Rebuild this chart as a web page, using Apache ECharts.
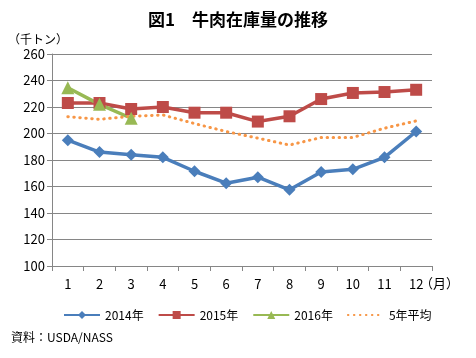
<!DOCTYPE html>
<html><head><meta charset="utf-8">
<script src="https://cdn.jsdelivr.net/npm/echarts@6/dist/echarts.min.js"></script>
<style>html,body{margin:0;padding:0;background:#fff}#c{width:476px;height:358px}</style>
</head><body><div id="c"></div>
<script>
const months = ['1','2','3','4','5','6','7','8','9','10','11','12'];
const s2014 = [195, 186, 184, 182, 171.5, 162.5, 167, 157.5, 171, 173, 182, 201.5];
const s2015 = [223, 223, 218.5, 220, 215.7, 215.7, 209, 213, 226, 230.6, 231.3, 233];
const s2016 = [234.5, 222, 211.5];
const avg5 = [212.7, 210.7, 213, 214, 207.5, 201.5, 196.5, 191.3, 197, 197, 204, 209.5];
const yTicks = {min: 100, max: 260, interval: 20};
const font = '"Noto Sans CJK JP", "Noto Sans", sans-serif';
const chart = echarts.init(document.getElementById('c'), null, {renderer: 'canvas'});
chart.setOption({
  animation: false,
  textStyle: {fontFamily: font},
  title: {text: '図1　牛肉在庫量の推移', left: 'center', top: 6,
    textStyle: {fontSize: 17, fontWeight: 'bold', color: '#000', fontFamily: font}},
  grid: {left: 52, top: 54, right: 44, bottom: 92},
  graphic: [
    {type: 'text', left: 8, top: 33, style: {text: '（千トン）', fontSize: 12, fill: '#000', fontFamily: font}},
    {type: 'text', left: 420, top: 277, style: {text: '（月）', fontSize: 13, fill: '#000', fontFamily: font}},
    {type: 'text', left: 11, top: 331, style: {text: '資料：USDA/NASS', fontSize: 12, fill: '#000', fontFamily: font}}
  ],
  legend: {
    bottom: 32, left: 58, itemWidth: 36, itemHeight: 10, itemGap: 14,
    textStyle: {fontSize: 12, color: '#000', fontFamily: font},
    data: ['2014年', '2015年', '2016年',
      {name: '5年平均', itemStyle: {color: 'rgba(0,0,0,0)', borderColor: 'rgba(0,0,0,0)', borderWidth: 0}}]
  },
  xAxis: {
    type: 'category', data: months, boundaryGap: true,
    axisLine: {lineStyle: {color: '#868686', width: 1}},
    axisTick: {show: true, length: 5, lineStyle: {color: '#868686'}},
    axisLabel: {fontSize: 13, color: '#000', margin: 12, fontFamily: font}
  },
  yAxis: {
    type: 'value', min: yTicks.min, max: yTicks.max, interval: yTicks.interval,
    axisLine: {show: true, lineStyle: {color: '#868686'}},
    axisTick: {show: true, length: 5, inside: false, lineStyle: {color: '#868686'}},
    splitLine: {lineStyle: {color: '#868686', width: 1}},
    axisLabel: {fontSize: 13, color: '#000', margin: 7, fontFamily: font}
  },
  series: [
    {name: '2014年', type: 'line', data: s2014, symbol: 'diamond', symbolSize: 12,
      itemStyle: {color: '#4A7EBB'}, lineStyle: {color: '#4A7EBB', width: 3.5}},
    {name: '2015年', type: 'line', data: s2015, symbol: 'rect', symbolSize: 12,
      itemStyle: {color: '#BE4B48'}, lineStyle: {color: '#BE4B48', width: 3.5}},
    {name: '2016年', type: 'line', data: s2016, symbol: 'triangle', symbolSize: 13,
      itemStyle: {color: '#98B954'}, lineStyle: {color: '#98B954', width: 3.5}},
    {name: '5年平均', type: 'line', data: avg5, symbol: 'none',
      itemStyle: {color: '#F79646'}, lineStyle: {color: '#F79646', width: 3, type: [0.5, 5.5], cap: 'round'}}
  ]
});
</script></body></html>
